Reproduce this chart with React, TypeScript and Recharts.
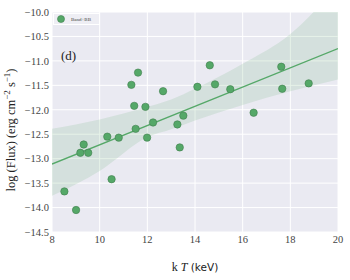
import React from 'react'
import {
  ComposedChart,
  Scatter,
  Line,
  Area,
  XAxis,
  YAxis,
  CartesianGrid,
  Legend,
  Customized,
} from 'recharts'

// observed points (kT in keV, log flux)
const kT = [
  8.52, 9.01, 9.19, 9.33, 9.52, 10.32, 10.5, 10.8, 11.33, 11.45, 11.51, 11.61, 11.92, 11.99,
  12.24, 12.66, 13.26, 13.36, 13.51, 14.1, 14.62, 14.84, 15.48, 16.46, 17.62, 17.66, 18.77,
]
const logFlux = [
  -13.67, -14.05, -12.88, -12.71, -12.88, -12.55, -13.42, -12.57, -11.49, -11.92, -12.39, -11.24,
  -11.94, -12.57, -12.26, -11.62, -12.3, -12.77, -12.12, -11.53, -11.09, -11.48, -11.58, -12.06,
  -11.12, -11.57, -11.46,
]

// regression fit
const fitX = [8, 20]
const fitY = [-13.11, -10.75]

// confidence band
const bandX = [8, 10, 12, 13, 14, 16, 18, 20]
const bandLow = [-13.76, -13.25, -12.56, -12.4, -12.22, -11.9, -11.62, -11.38]
const bandHigh = [-12.39, -12.2, -11.94, -11.79, -11.57, -11.06, -10.45, -9.45]

const xTicks = [8, 10, 12, 14, 16, 18, 20]
const yTicks = [-14.5, -14, -13.5, -13, -12.5, -12, -11.5, -11, -10.5, -10]

const GREEN = '#55A868'
const SERIF = '"Liberation Serif", "DejaVu Serif", serif'

const points = kT.map((x, i) => ({ x, y: logFlux[i] }))
const fit = fitX.map((x, i) => ({ x, fit: fitY[i] }))
const band = bandX.map((x, i) => ({ x, band: [bandLow[i], bandHigh[i]] }))

const fmtY = (v: number) => v.toFixed(1).replace('-', '\u2212')

const YLabel = () => (
  <text
    transform="translate(15,130) rotate(-90)"
    textAnchor="middle"
    fontFamily={SERIF}
    fontSize={12.5}
    fill="#222"
  >
    log (Flux) (erg cm
    <tspan dy={-5} fontSize={9}>{'\u22122'}</tspan>
    <tspan dy={5}> s</tspan>
    <tspan dy={-5} fontSize={9}>{'\u22121'}</tspan>
    <tspan dy={5}>)</tspan>
  </text>
)

const XLabel = () => (
  <text x={195} y={271} textAnchor="middle" fontSize={12} fill="#222" fontFamily={SERIF}>
    k<tspan fontStyle="italic"> T</tspan>
    <tspan fontFamily='"DejaVu Sans", sans-serif' fontSize={10.5}> (keV)</tspan>
  </text>
)

const PanelTag = () => (
  <text x={61} y={60} fontFamily={SERIF} fontSize={13} fill="#222">
    (d)
  </text>
)

const LegendBox = () => (
  <svg width={48} height={13} style={{ display: 'block' }}>
    <rect x={0.5} y={0.5} width={46} height={11} fill="#EEEEF4" stroke="#ffffff" />
    <circle cx={8} cy={6} r={3.5} fill={GREEN} stroke="#3f7d4e" strokeWidth={0.6} />
    <text x={18} y={8} fontSize={5} fill="#444" fontFamily={SERIF}>
      Band+BB
    </text>
  </svg>
)

export default function App() {
  return (
    <div style={{ position: 'absolute', left: 0, top: 0, background: '#fff' }}>
      <ComposedChart
        width={350}
        height={280}
        margin={{ top: 12, right: 12, bottom: 0, left: 0 }}
      >
        <CartesianGrid fill="#EAEAF2" stroke="#ffffff" strokeWidth={1} />
        <XAxis
          type="number"
          dataKey="x"
          domain={[8, 20]}
          ticks={xTicks}
          allowDataOverflow
          height={35}
          tickSize={0}
          tickMargin={4}
          axisLine={false}
          tick={{ fontFamily: SERIF, fontSize: 10.5, fill: '#444' }}
        />
        <YAxis
          type="number"
          domain={[-14.5, -10]}
          ticks={yTicks}
          allowDataOverflow
          width={52}
          tickSize={0}
          tickMargin={3}
          axisLine={false}
          tickFormatter={fmtY}
          tick={{ fontFamily: SERIF, fontSize: 10.5, fill: '#444' }}
        />
        <Area
          data={band}
          dataKey="band"
          type="monotone"
          fill={GREEN}
          fillOpacity={0.15}
          stroke="none"
          isAnimationActive={false}
          legendType="none"
        />
        <Line
          data={fit}
          dataKey="fit"
          stroke={GREEN}
          strokeWidth={1.3}
          dot={false}
          isAnimationActive={false}
          legendType="none"
        />
        <Scatter
          data={points}
          dataKey="y"
          name="Band+BB"
          fill={GREEN}
          stroke="#3f7d4e"
          strokeWidth={0.6}
          shape={(p: any) => (
            <circle cx={p.cx} cy={p.cy} r={3.7} fill={GREEN} stroke="#3f7d4e" strokeWidth={0.6} />
          )}
          isAnimationActive={false}
        />
        <Legend
          content={() => <LegendBox />}
          wrapperStyle={{ position: 'absolute', left: 53, top: 13, width: 48 }}
        />
        <Customized component={YLabel} />
        <Customized component={XLabel} />
        <Customized component={PanelTag} />
      </ComposedChart>
    </div>
  )
}
